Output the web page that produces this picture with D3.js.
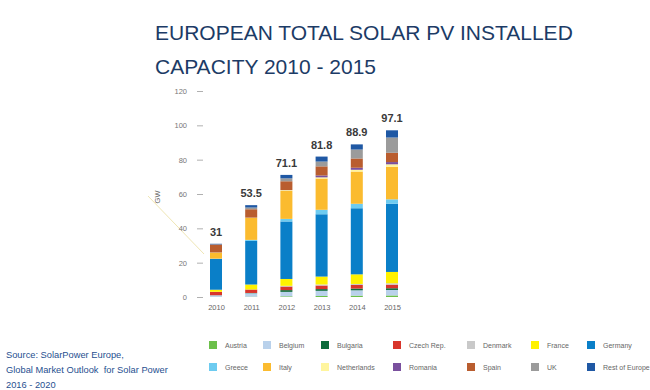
<!DOCTYPE html>
<html><head><meta charset="utf-8">
<script src="https://cdn.jsdelivr.net/npm/d3@7"></script>
<style>
html,body{margin:0;padding:0;background:#fff;}
svg{display:block;font-family:"Liberation Sans",Arial,sans-serif;}
</style></head>
<body>
<svg id="chart" width="650" height="390"></svg>
<script>
const years = ["2010","2011","2012","2013","2014","2015"];
const totals = [31, 53.5, 71.1, 81.8, 88.9, 97.1];
const totalLabels = ["31","53.5","71.1","81.8","88.9","97.1"];
const countries = ["Austria","Belgium","Bulgaria","Czech Rep.","Denmark","France","Germany","Greece","Italy","Netherlands","Romania","Spain","UK","Rest of Europe"];
const colors = ["#6cc04a","#b9d1eb","#0b6b3a","#d8352c","#c9c9c9","#fff200","#0a7fc8","#6dcbf0","#fbbb2f","#fff59e","#7a509e","#b95d2f","#9b9b9b","#1f58a4"];
const austria     = [0.1, 0.2, 0.4, 0.6, 0.8, 0.9];
const belgium     = [0.9, 2.0, 2.6, 3.0, 3.1, 3.2];
const bulgaria    = [0.03, 0.15, 1.0, 1.0, 1.0, 1.0];
const czech       = [2.0, 2.0, 2.1, 2.1, 2.1, 2.1];
const denmark     = [0.01, 0.02, 0.4, 0.6, 0.6, 0.8];
const france      = [1.2, 2.9, 4.0, 4.6, 5.6, 6.6];
const germany     = [17.9, 25.4, 33.5, 36.3, 38.5, 39.7];
const greece      = [0.2, 0.6, 1.5, 2.6, 2.6, 2.6];
const italy       = [3.5, 12.8, 16.4, 18.2, 18.8, 18.9];
const netherlands = [0.1, 0.15, 0.37, 0.7, 1.0, 1.5];
const romania     = [0.0, 0.0, 0.05, 1.1, 1.2, 1.3];
const spain       = [4.6, 4.9, 5.1, 5.3, 5.4, 5.4];
const uk          = [0.1, 1.0, 1.7, 2.8, 5.2, 8.9];
const rest        = [0.36, 1.38, 2.0, 2.9, 3.0, 4.2];
const yTicks = [0, 20, 40, 60, 80, 100, 120];
const seriesValues = [austria, belgium, bulgaria, czech, denmark, france, germany, greece, italy, netherlands, romania, spain, uk, rest];

const table = years.map((y, i) => {
  const row = {year: y};
  countries.forEach((c, j) => row[c] = seriesValues[j][i]);
  return row;
});

const svg = d3.select("#chart");

// Title
svg.append("text").attr("x", 155).attr("y", 40).attr("fill", "#1c3b66")
  .attr("font-size", 21).text("EUROPEAN TOTAL SOLAR PV INSTALLED");
svg.append("text").attr("x", 155).attr("y", 74).attr("fill", "#1c3b66")
  .attr("font-size", 21).text("CAPACITY 2010 - 2015");

const x = d3.scalePoint().domain(years).range([216, 392]);
const y = d3.scaleLinear().domain([0, 120]).range([297, 91]);
const barW = 12;

// decorative faint leader line
svg.append("line").attr("x1", 148).attr("y1", 196).attr("x2", 204).attr("y2", 254)
  .attr("stroke", "#efe6b4").attr("stroke-width", 1);

// Y axis
const yAxis = svg.append("g").attr("transform", "translate(203,0)")
  .call(d3.axisLeft(y).tickValues(yTicks).tickSize(6).tickPadding(10));
yAxis.select(".domain").remove();
yAxis.selectAll(".tick line").attr("stroke", "#b0b0b0");
yAxis.selectAll(".tick text").attr("fill", "#777").attr("font-size", 7.5)
  .attr("font-family", "Liberation Sans, Arial, sans-serif");

svg.append("text").attr("transform", "translate(160,197) rotate(-90)")
  .attr("text-anchor", "middle").attr("fill", "#666").attr("font-size", 7.5).text("GW");

// X axis
const xAxis = svg.append("g").attr("transform", "translate(0,302)")
  .call(d3.axisBottom(x).tickSize(0).tickPadding(3));
xAxis.select(".domain").remove();
xAxis.selectAll(".tick text").attr("fill", "#666").attr("font-size", 7.5)
  .attr("font-family", "Liberation Sans, Arial, sans-serif");

// Stacked bars
const stack = d3.stack().keys(countries)(table);
const color = d3.scaleOrdinal().domain(countries).range(colors);
svg.append("g").selectAll("g").data(stack).join("g")
  .attr("fill", d => color(d.key))
  .selectAll("rect").data(d => d).join("rect")
  .attr("x", d => x(d.data.year) - barW / 2)
  .attr("width", barW)
  .attr("y", d => y(d[1]))
  .attr("height", d => Math.max(0, y(d[0]) - y(d[1])));

// Totals
svg.append("g").selectAll("text").data(years).join("text")
  .attr("x", d => x(d)).attr("y", (d, i) => y(totals[i]) - 8)
  .attr("text-anchor", "middle").attr("font-weight", "bold")
  .attr("font-size", 11).attr("fill", "#3a3a3a")
  .text((d, i) => totalLabels[i]);

// Legend
const legX = [209, 263, 321, 393, 467, 531, 587];
const legY = [341, 363];
const leg = svg.append("g").selectAll("g").data(countries).join("g")
  .attr("transform", (d, i) => `translate(${legX[i % 7]},${legY[Math.floor(i / 7)]})`);
leg.append("rect").attr("width", 8).attr("height", 8).attr("fill", d => color(d));
leg.append("text").attr("x", 16).attr("y", 6.5).attr("font-size", 7)
  .attr("fill", "#666").text(d => d);

// Source
const src = ["Source: SolarPower Europe,", "Global Market Outlook  for Solar Power", "2016 - 2020"];
svg.append("g").selectAll("text").data(src).join("text")
  .attr("x", 6).attr("y", (d, i) => 358 + i * 15)
  .attr("font-size", 9.3).attr("fill", "#1f4f8f")
  .attr("xml:space", "preserve").style("white-space", "pre")
  .text(d => d);
</script>
</body></html>
